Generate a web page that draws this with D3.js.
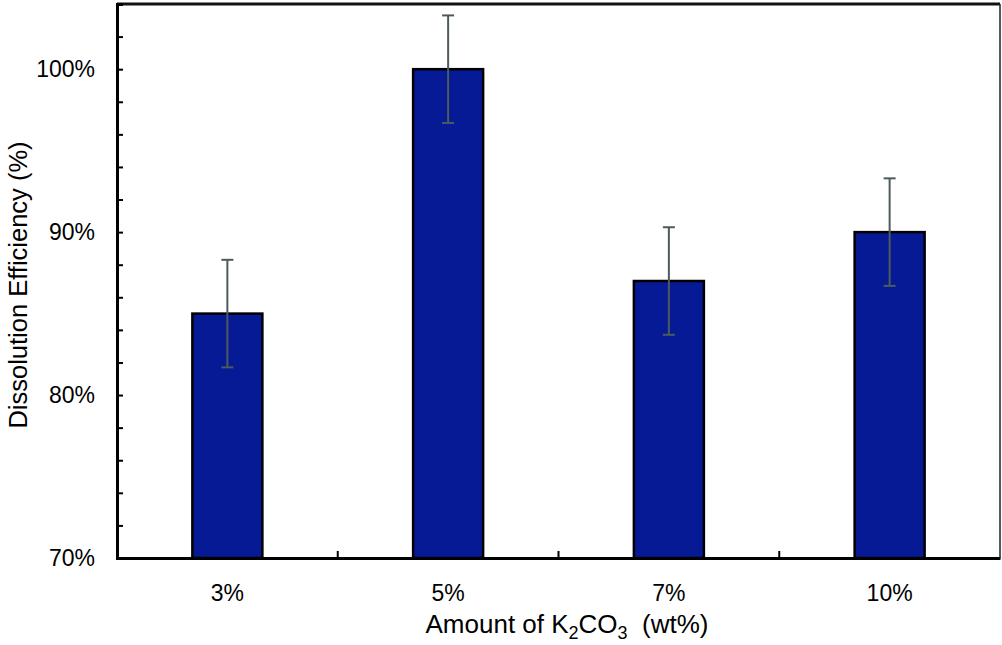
<!DOCTYPE html>
<html><head><meta charset="utf-8">
<script src="https://cdn.jsdelivr.net/npm/d3@7"></script>
<style>body{margin:0;background:#fff}svg{display:block}text{font-family:"Liberation Sans",Arial,sans-serif;fill:#000}</style>
</head><body>
<svg id="c" width="1002" height="645"></svg>
<script>
const categories = ["3%","5%","7%","10%"];
const values = [85,100,87,90];
const errors = [3.3,3.3,3.3,3.3];
const yTicks = [70,80,90,100];
const yMinorTicks = [72,74,76,78,82,84,86,88,92,94,96,98,102];

const svg = d3.select("#c");
const L=117,R=1000,T=4,B=558;
const x = d3.scaleBand().domain(categories).range([L,R]).paddingInner(0).paddingOuter(0);
const y = d3.scaleLinear().domain([70,104]).range([B,T]);
const bw = 70;

// bars
svg.selectAll("rect.bar").data(values).join("rect")
  .attr("x",(d,i)=>x(categories[i])+x.bandwidth()/2-bw/2)
  .attr("y",d=>y(d)).attr("width",bw).attr("height",d=>y(70)-y(d))
  .attr("fill","#061A96").attr("stroke","#000").attr("stroke-width",2.5);

// error bars
const eg = svg.append("g").attr("stroke","#4d5b5c").attr("stroke-width",2);
values.forEach((v,i)=>{
  const cx = x(categories[i])+x.bandwidth()/2;
  eg.append("line").attr("x1",cx).attr("x2",cx).attr("y1",y(v+errors[i])).attr("y2",y(v-errors[i]));
  eg.append("line").attr("x1",cx-6).attr("x2",cx+6).attr("y1",y(v+errors[i])).attr("y2",y(v+errors[i]));
  eg.append("line").attr("x1",cx-6).attr("x2",cx+6).attr("y1",y(v-errors[i])).attr("y2",y(v-errors[i]));
});

// frame
svg.append("line").attr("x1",L).attr("x2",R).attr("y1",T).attr("y2",T).attr("stroke","#111").attr("stroke-width",3);
svg.append("line").attr("x1",R).attr("x2",R).attr("y1",T).attr("y2",B).attr("stroke","#222").attr("stroke-width",1.5);

// y axis
const ya = svg.append("g").attr("transform",`translate(${L},0)`)
  .call(d3.axisRight(y).tickValues(yTicks).tickSize(6).tickFormat(""));
ya.select(".domain").attr("stroke","#000").attr("stroke-width",3);
ya.selectAll(".tick line").attr("stroke","#000").attr("stroke-width",2);
const ym = svg.append("g").attr("transform",`translate(${L},0)`)
  .call(d3.axisRight(y).tickValues(yMinorTicks).tickSize(6).tickFormat(""));
ym.select(".domain").remove();
ym.selectAll(".tick line").attr("stroke","#000").attr("stroke-width",2);
svg.append("g").selectAll("text").data(yTicks).join("text")
  .attr("x",95).attr("y",d=>y(d)).attr("dy","0.36em").attr("text-anchor","end")
  .attr("font-size",23).text(d=>d+"%");

// x axis
const xa = svg.append("g").attr("transform",`translate(0,${B})`)
  .call(d3.axisTop(x).tickSize(0).tickFormat(""));
xa.select(".domain").attr("stroke","#000").attr("stroke-width",3);
const bounds = categories.slice(1).map(c=>x(c));
svg.append("g").selectAll("line").data(bounds).join("line")
  .attr("x1",d=>d).attr("x2",d=>d).attr("y1",B).attr("y2",B-7).attr("stroke","#000").attr("stroke-width",2);
svg.append("g").selectAll("text").data(categories).join("text")
  .attr("x",d=>x(d)+x.bandwidth()/2).attr("y",601).attr("text-anchor","middle")
  .attr("font-size",23).text(d=>d);

// titles
const xt = svg.append("text").attr("x",567).attr("y",633).attr("text-anchor","middle").attr("font-size",26);
xt.append("tspan").text("Amount of K");
xt.append("tspan").attr("font-size",18).attr("dy",6).text("2");
xt.append("tspan").attr("dy",-6).text("CO");
xt.append("tspan").attr("font-size",18).attr("dy",6).text("3");
xt.append("tspan").attr("dy",-6).text("\u00a0 (wt%)");

svg.append("text").attr("transform","translate(27,285) rotate(-90)").attr("text-anchor","middle")
  .attr("font-size",25.5).text("Dissolution Efficiency (%)");
</script>
</body></html>
